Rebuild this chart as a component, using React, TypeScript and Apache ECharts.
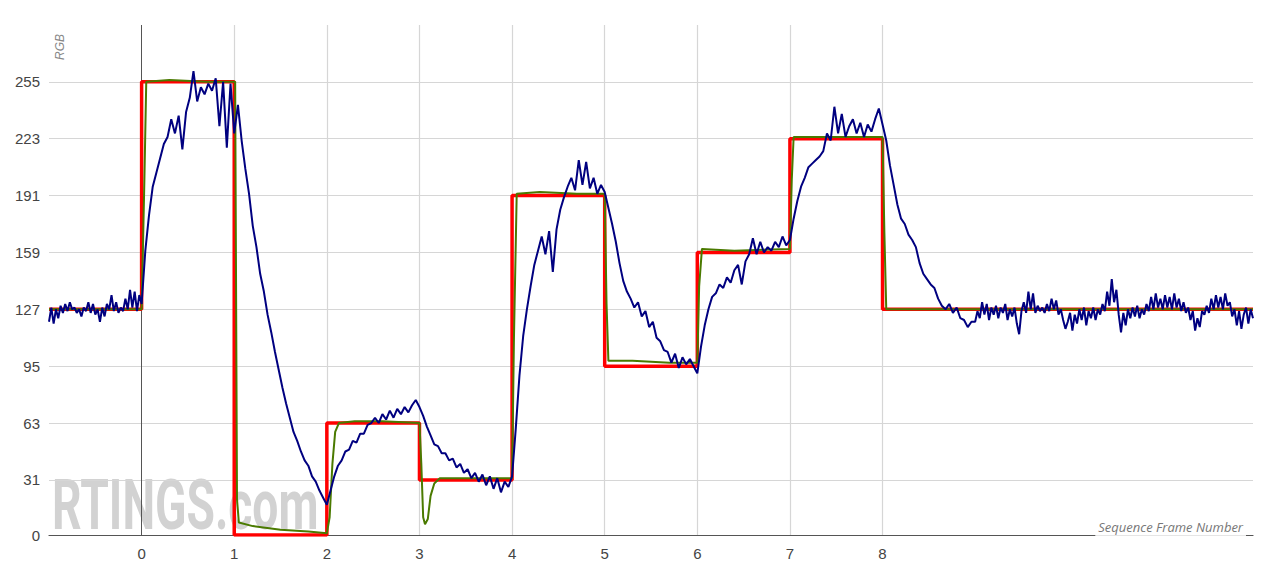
import React, { useEffect, useRef } from "react";
import * as echarts from "echarts";

// Tick labels / grid positions
const yTicks = [0, 31, 63, 95, 127, 159, 191, 223, 255];
const xTickLabels = [0, 1, 2, 3, 4, 5, 6, 7, 8];
const xGridLines = [1, 2, 3, 4, 5, 6, 7, 8];

// Target (red) level per frame, frames -1 .. 11, last point at 12
const frameStarts = [-1, 0, 1, 2, 3, 4, 5, 6, 7, 8, 9, 10, 11, 12];
const targetLevels = [127, 255, 0, 63, 31, 191, 95, 159, 223, 127, 127, 127, 127, 127];

// Green (expected response) points [frame, value]
const greenPoints: [number, number][] = [
  [-1, 127], [0.0, 127], [0.03, 200], [0.05, 255], [0.3, 256], [0.7, 255], [1.01, 255],
  [1.03, 20], [1.05, 7], [1.2, 5], [1.5, 3], [1.8, 2], [2.0, 1], [2.03, 10], [2.06, 40],
  [2.09, 58], [2.13, 63], [2.3, 64], [2.6, 64], [3.0, 63], [3.02, 40], [3.04, 10],
  [3.06, 6], [3.09, 9], [3.12, 22], [3.16, 29], [3.22, 32], [3.5, 32], [4.0, 32],
  [4.02, 110], [4.05, 192], [4.3, 193], [4.7, 192], [5.0, 192], [5.02, 130], [5.04, 98],
  [5.3, 98], [5.7, 97], [6.0, 97], [6.02, 140], [6.05, 161], [6.4, 160], [7.0, 161],
  [7.02, 200], [7.04, 224], [7.4, 224], [8.0, 224], [8.02, 170], [8.04, 127], [12, 127],
];

// Measured (blue) values, one array per frame; samples are evenly spread inside each frame
const blueM1 = [120, 128, 119, 127, 122, 129, 125, 130, 126, 131, 127, 128, 125, 127, 123, 128, 126, 131, 125, 130, 124, 127, 120, 128, 123, 130, 127, 135, 126, 131, 125, 128, 126, 133, 127, 138, 128, 137, 126, 135];
const blue0 = [130, 160, 180, 196, 204, 212, 220, 224, 234, 226, 236, 217, 238, 246, 261, 244, 252, 248, 254, 250, 257, 230, 255, 218, 254];
const blue1 = [226, 242, 222, 206, 192, 174, 162, 147, 137, 124, 114, 103, 93, 83, 74, 66, 58, 53, 47, 42, 39, 33, 30, 25, 21];
const blue2 = [17, 25, 33, 39, 42, 47, 48, 53, 52, 57, 57, 62, 63, 66, 63, 68, 65, 70, 66, 71, 68, 72, 69, 73, 76];
const blue3 = [72, 67, 61, 56, 51, 50, 46, 46, 42, 43, 38, 40, 35, 37, 32, 35, 30, 34, 28, 33, 26, 32, 24, 30, 27];
const blue4 = [33, 60, 90, 112, 127, 140, 152, 160, 168, 158, 171, 148, 172, 183, 190, 196, 201, 194, 211, 197, 210, 195, 201, 192, 197];
const blue5 = [193, 184, 175, 165, 153, 143, 137, 133, 128, 131, 123, 126, 117, 120, 111, 109, 104, 103, 97, 102, 94, 100, 96, 99, 95];
const blue6 = [91, 106, 118, 127, 134, 136, 141, 139, 145, 142, 149, 152, 141, 154, 158, 167, 158, 165, 159, 162, 160, 165, 162, 168, 163];
const blue7 = [166, 178, 188, 196, 201, 207, 209, 211, 213, 216, 226, 222, 241, 226, 237, 224, 230, 234, 226, 232, 224, 231, 227, 234, 240];
const blue8 = [231, 222, 208, 197, 186, 178, 175, 169, 166, 162, 153, 147, 144, 141, 139, 133, 129, 127, 130, 125, 128, 122, 121, 117, 120];
const blue9 = [120, 126, 122, 131, 124, 130, 121, 128, 124, 129, 122, 128, 125, 130, 121, 127, 123, 128, 119, 113, 126, 131, 125, 137, 127, 136, 125, 129, 126, 128, 125, 130, 126, 133, 127, 132, 124, 127, 121, 116];
const blue10 = [120, 125, 115, 124, 119, 127, 121, 128, 118, 126, 122, 128, 121, 127, 124, 130, 126, 137, 129, 144, 131, 138, 124, 114, 125, 118, 127, 122, 128, 123, 129, 122, 127, 124, 130, 126, 134, 127, 136, 128];
const blue11 = [133, 127, 135, 128, 134, 127, 136, 128, 133, 126, 131, 125, 128, 121, 126, 115, 122, 117, 126, 124, 129, 125, 133, 127, 135, 128, 134, 127, 136, 129, 131, 123, 127, 118, 126, 116, 124, 128, 119, 127];
const blueEnd = [122];
const blueFrames = [blueM1, blue0, blue1, blue2, blue3, blue4, blue5, blue6, blue7, blue8, blue9, blue10, blue11, blueEnd];

export default function App() {
  const ref = useRef<HTMLDivElement>(null);

  useEffect(() => {
    if (!ref.current) return;
    const chart = echarts.init(ref.current, undefined, { renderer: "svg" });

    const blueData: [number, number][] = [];
    blueFrames.forEach((arr, k) => {
      arr.forEach((v, i) => {
        const x = Math.round((frameStarts[k] + i / arr.length) * 1000) / 1000;
        blueData.push([x, v]);
      });
    });
    const redData = frameStarts.map((x, i) => [x, targetLevels[i]]);

    const gridColor = "#d6d6d6";
    const gridMarks: any[] = [
      ...yTicks.filter((v) => v !== 0).map((v) => ({ yAxis: v, lineStyle: { color: gridColor, width: 1.2, type: "solid" } })),
      ...xGridLines.map((v) => ({ xAxis: v, lineStyle: { color: gridColor, width: 1.2, type: "solid" } })),
      { xAxis: 0, lineStyle: { color: "#555", width: 1, type: "solid" } },
    ];

    chart.setOption({
      animation: false,
      grid: { left: 49, right: 27, top: 25, bottom: 42 },
      xAxis: {
        type: "value",
        min: -1,
        max: 12,
        interval: 1,
        splitLine: { show: false },
        axisTick: { show: false },
        axisLine: { show: true, lineStyle: { color: "#555", width: 1.2 } },
        axisLabel: {
          margin: 11,
          color: "#444",
          fontSize: 15,
          fontFamily: "Liberation Sans",
          formatter: (v: number) => (xTickLabels.includes(v) ? String(v) : ""),
        },
      },
      yAxis: {
        type: "value",
        min: 0,
        max: 287,
        splitLine: { show: false },
        axisTick: { show: false },
        axisLine: { show: false },
        axisLabel: {
          customValues: yTicks,
          margin: 9,
          color: "#444",
          fontSize: 15,
          fontFamily: "Liberation Sans",
        },
      },
      graphic: [
        {
          type: "text",
          x: 52,
          y: 505,
          scaleX: 0.66,
          z: 0,
          silent: true,
          style: {
            text: "RTINGS.com",
            fontFamily: "Roboto",
            fontWeight: "bold",
            fontSize: 70,
            fill: "#d2d2d2",
            align: "left",
            verticalAlign: "middle",
          },
        },
        {
          type: "text",
          x: 60,
          y: 47,
          rotation: Math.PI / 2,
          silent: true,
          style: {
            text: "RGB",
            fontFamily: "Liberation Sans",
            fontStyle: "italic",
            fontSize: 12,
            fill: "#888",
            align: "center",
            verticalAlign: "middle",
          },
        },
        {
          type: "text",
          x: 1246,
          y: 527,
          z: 10,
          silent: true,
          style: {
            text: "Sequence Frame Number",
            fontFamily: "Open Sans",
            fontStyle: "italic",
            fontSize: 13,
            fill: "#777",
            align: "right",
            verticalAlign: "middle",
            backgroundColor: "rgba(255,255,255,0.85)",
            padding: [3, 3, 3, 3],
          },
        },
      ],
      series: [
        {
          type: "line",
          data: [],
          z: 1,
          silent: true,
          markLine: {
            z: 1,
            silent: true,
            symbol: "none",
            label: { show: false },
            animation: false,
            data: gridMarks,
          },
        },
        {
          type: "line",
          data: redData,
          step: "end",
          showSymbol: false,
          z: 6,
          lineStyle: { color: "#ff0000", width: 3.5 },
        },
        {
          type: "line",
          data: greenPoints,
          showSymbol: false,
          z: 7,
          lineStyle: { color: "#4a7a00", width: 2 },
        },
        {
          type: "line",
          data: blueData,
          showSymbol: false,
          z: 8,
          lineStyle: { color: "#000080", width: 2 },
        },
      ],
    });

    return () => chart.dispose();
  }, []);

  return (
    <div
      ref={ref}
      style={{ position: "fixed", left: 0, top: 0, width: 1280, height: 577, background: "#fff" }}
    />
  );
}
